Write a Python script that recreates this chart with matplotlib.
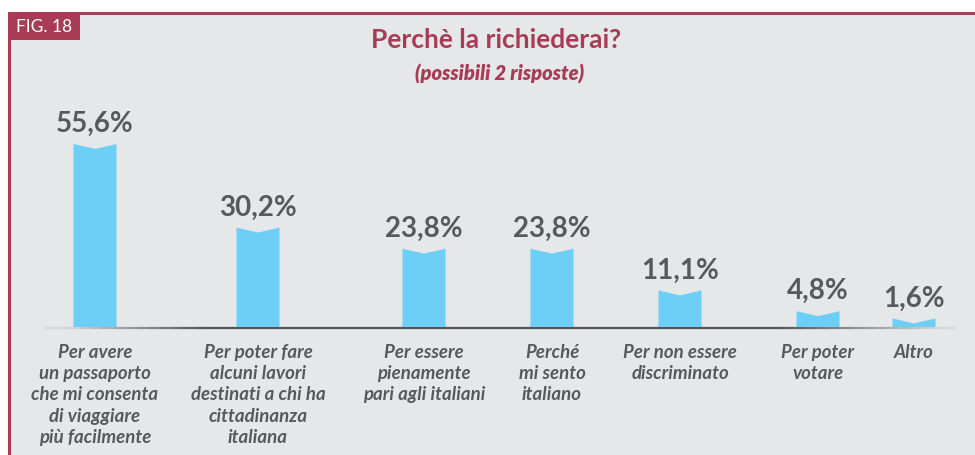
import matplotlib
matplotlib.use('Agg')
import matplotlib.pyplot as plt
from matplotlib.patches import Polygon, Rectangle
from matplotlib.collections import LineCollection
import numpy as np

# dati
categorie = ['Per avere\nun passaporto\nche mi consenta\ndi viaggiare\npiù facilmente',
             'Per poter fare\nalcuni lavori\ndestinati a chi ha\ncittadinanza\nitaliana',
             'Per essere\npienamente\npari agli italiani',
             'Perché\nmi sento\nitaliano',
             'Per non essere\ndiscriminato',
             'Per poter\nvotare',
             'Altro']
valori = [55.6, 30.2, 23.8, 23.8, 11.1, 4.8, 1.6]
etichette = ['55,6%', '30,2%', '23,8%', '23,8%', '11,1%', '4,8%', '1,6%']

# posizioni (layout, in pixel della figura)
pos_x = [95, 258, 424, 552, 680, 818, 914]

sfondo = '#e6e7e9'
rosso = '#a83c56'
blu = '#6dcff6'
grigio = '#58595b'

plt.rcParams['font.family'] = ['Lato', 'DejaVu Sans']

fig = plt.figure(figsize=(9.75, 4.55), dpi=100)
fig.patch.set_facecolor('white')

# cornice e sfondo
bg = fig.add_axes([0, 0, 1, 1])
bg.set_xlim(0, 975)
bg.set_ylim(455, 0)
bg.axis('off')
bg.add_patch(Rectangle((8, 12), 975, 450, facecolor=sfondo, edgecolor='none'))
bg.plot([8, 975], [13, 13], color=rosso, lw=2.2, solid_capstyle='butt')
bg.plot([9, 9], [12, 455], color=rosso, lw=2.2, solid_capstyle='butt')
bg.add_patch(Rectangle((8, 12), 72, 28, facecolor=rosso, edgecolor='none'))
bg.text(44, 27, 'FIG. 18', color='white', fontsize=12.5, ha='center', va='center')

bg.text(496, 40, 'Perchè la richiederai?', color=rosso, fontsize=19,
        fontweight='bold', ha='center', va='center')
bg.text(500, 74, '(possibili 2 risposte)', color=rosso, fontsize=14.5,
        fontweight=800, style='italic', ha='center', va='center')

# linea di base sfumata
xs = np.linspace(45, 955, 80)
segs = [[(xs[i], 328), (xs[i + 1], 328)] for i in range(len(xs) - 1)]
cols = []
for i in range(len(xs) - 1):
    t = (xs[i] - 45) / 910
    a = max(min(1, t * 6, (1 - t) * 5), 0.1)
    cols.append((0.33, 0.33, 0.34, a))
bg.add_collection(LineCollection(segs, colors=cols, linewidths=1.6, capstyle='butt'))

# grafico
ax = fig.add_axes([0, 128 / 455, 1, 197.5 / 455])
ax.set_xlim(0, 975)
ax.set_ylim(0, 60)
ax.axis('off')

larg = 43
tacca = 1.5
for x, v, lab in zip(pos_x, valori, etichette):
    h = max(v, 2.6)
    pts = [(x - larg / 2, 0), (x + larg / 2, 0), (x + larg / 2, h),
           (x, h - tacca), (x - larg / 2, h)]
    ax.add_patch(Polygon(pts, closed=True, facecolor=blu, edgecolor='none'))
    ax.text(x, h + 2.1, lab, ha='center', va='bottom', fontsize=20,
            fontweight='bold', color=grigio)

for x, c in zip(pos_x, categorie):
    bg.text(x, 344, c, ha='center', va='top', fontsize=13.4, fontweight='bold',
            style='italic', color=grigio, linespacing=1.3)

fig.savefig('out.png', dpi=100, facecolor=fig.get_facecolor())
